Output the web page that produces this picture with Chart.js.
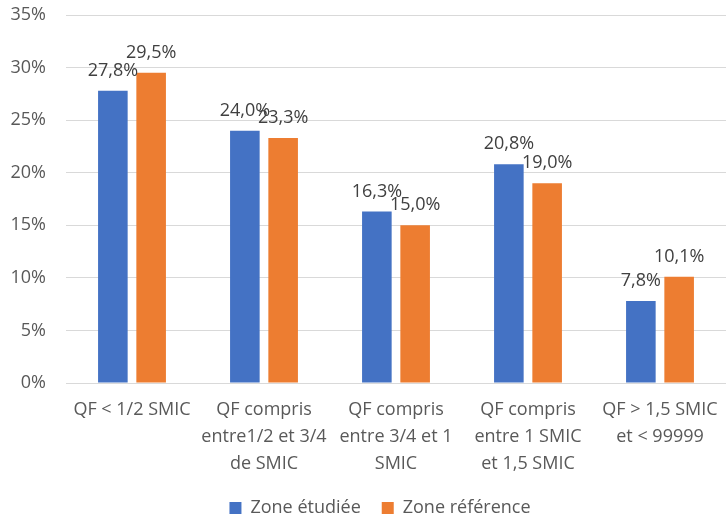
<!DOCTYPE html>
<html>
<head>
<meta charset="utf-8">
<script src="https://cdn.jsdelivr.net/npm/chart.js@4/dist/chart.umd.min.js"></script>
<style>
  body { margin: 0; background: #fff; }
</style>
</head>
<body>
<canvas id="myChart" width="726" height="519"></canvas>
<script>
// catégories (axe x), en plusieurs lignes comme dans Excel
const categories = [
  ['QF < 1/2 SMIC'],
  ['QF compris', 'entre1/2 et 3/4', 'de SMIC'],
  ['QF compris', 'entre 3/4 et 1', 'SMIC'],
  ['QF compris', 'entre 1 SMIC', 'et 1,5 SMIC'],
  ['QF > 1,5 SMIC', 'et < 99999']
];
const zoneEtudiee = [27.8, 24.0, 16.3, 20.8, 7.8];
const zoneReference = [29.5, 23.3, 15.0, 19.0, 10.1];
const yTicks = [0, 5, 10, 15, 20, 25, 30, 35];

const fontFamily = '"Open Sans", sans-serif';
const fontSize = 18;

// petit plugin pour écrire les valeurs au-dessus des barres
const barLabels = {
  id: 'barLabels',
  afterDatasetsDraw(chart) {
    const ctx = chart.ctx;
    ctx.save();
    ctx.font = fontSize + 'px ' + fontFamily;
    ctx.fillStyle = '#404040';
    ctx.textAlign = 'center';
    ctx.textBaseline = 'alphabetic';
    chart.data.datasets.forEach((ds, i) => {
      chart.getDatasetMeta(i).data.forEach((bar, j) => {
        const txt = ds.data[j].toFixed(1).replace('.', ',') + '%';
        ctx.fillText(txt, bar.x, bar.y - 15);
      });
    });
    ctx.restore();
  }
};

// décale un peu la légende comme dans le graphique Excel
const legendShift = {
  id: 'legendShift',
  afterLayout(chart) {
    const lg = chart.legend;
    lg.left += 15;
    lg.right += 15;
    lg.top -= 4;
    lg.bottom -= 4;
  }
};

let ctx = document.getElementById('myChart').getContext('2d');
let myChart = new Chart(ctx, {
  type: 'bar',
  data: {
    labels: categories,
    datasets: [{
      label: 'Zone étudiée',
      data: zoneEtudiee,
      backgroundColor: '#4472C4'
    }, {
      label: 'Zone référence',
      data: zoneReference,
      backgroundColor: '#ED7D31'
    }]
  },
  options: {
    responsive: false,
    animation: false,
    datasets: {
      bar: {
        categoryPercentage: 0.58,
        barPercentage: 0.773
      }
    },
    layout: {
      padding: { top: 0, right: 0, left: 4, bottom: -12 }
    },
    plugins: {
      legend: {
        position: 'bottom',
        labels: {
          boxWidth: 12,
          boxHeight: 12,
          padding: 21,
          color: '#595959',
          font: { family: fontFamily, size: fontSize }
        }
      },
      tooltip: { enabled: false }
    },
    scales: {
      y: {
        min: 0,
        max: 35,
        afterBuildTicks: s => { s.ticks = yTicks.map(v => ({ value: v })); },
        afterFit: s => { s.width = 62; s.paddingTop = 15; },
        ticks: {
          color: '#595959',
          padding: 20,
          font: { family: fontFamily, size: fontSize },
          callback: v => v + '%'
        },
        grid: { color: '#D9D9D9', drawTicks: false },
        border: { display: false }
      },
      x: {
        ticks: {
          color: '#595959',
          padding: 5,
          maxRotation: 0,
          autoSkip: false,
          font: { family: fontFamily, size: fontSize, lineHeight: 1.5 }
        },
        grid: { display: false },
        border: { color: '#D9D9D9' }
      }
    }
  },
  plugins: [barLabels, legendShift]
});
</script>
</body>
</html>
